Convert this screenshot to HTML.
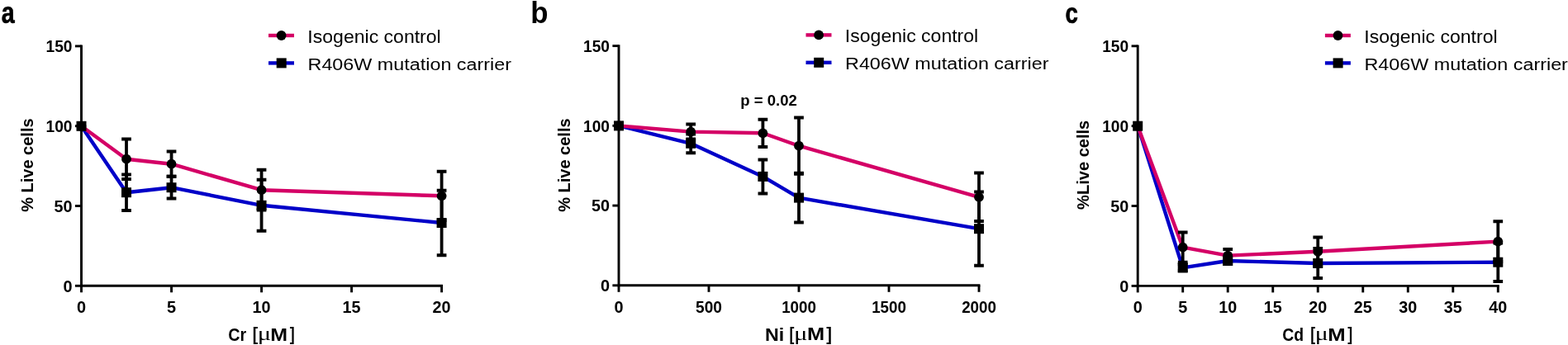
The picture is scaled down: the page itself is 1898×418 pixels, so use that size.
<!DOCTYPE html>
<html><head><meta charset="utf-8"><title>Live cells figure</title>
<style>
html,body{margin:0;padding:0;background:#fff;}
body{width:1898px;height:418px;overflow:hidden;}
svg{display:block;}
.tk{font-family:"Liberation Sans", Arial, sans-serif;font-weight:bold;font-size:20.3px;}
.B{font-family:"Liberation Sans", Arial, sans-serif;font-weight:bold;}
.N{font-family:"Liberation Sans", Arial, sans-serif;font-weight:normal;}
.S{font-family:"Liberation Serif", "Times New Roman", serif;font-weight:normal;}
</style></head><body>
<svg width="1898" height="418" viewBox="0 0 1898 418">
<rect width="1898" height="418" fill="#fff"/>
<path d="M98.50 54.50V346.30M97.05 346.30H536.05" stroke="#000" stroke-width="2.9" fill="none"/>
<path d="M90.90 346.30H98.5" stroke="#000" stroke-width="2.9"/>
<text transform="translate(87.50,353.70) scale(0.98,1)" text-anchor="end" class="tk">0</text>
<path d="M90.90 249.50H98.5" stroke="#000" stroke-width="2.9"/>
<text transform="translate(87.50,256.90) scale(0.975,1)" text-anchor="end" class="tk">50</text>
<path d="M90.90 152.70H98.5" stroke="#000" stroke-width="2.9"/>
<text transform="translate(87.50,160.10) scale(0.945,1)" text-anchor="end" class="tk">100</text>
<path d="M90.90 55.90H98.5" stroke="#000" stroke-width="2.9"/>
<text transform="translate(87.50,63.30) scale(0.945,1)" text-anchor="end" class="tk">150</text>
<path d="M98.50 346.30V354.30" stroke="#000" stroke-width="2.9"/>
<text transform="translate(98.50,379.4) scale(0.98,1)" text-anchor="middle" class="tk">0</text>
<path d="M207.53 346.30V354.30" stroke="#000" stroke-width="2.9"/>
<text transform="translate(207.53,379.4) scale(0.98,1)" text-anchor="middle" class="tk">5</text>
<path d="M316.55 346.30V354.30" stroke="#000" stroke-width="2.9"/>
<text transform="translate(316.55,379.4) scale(0.975,1)" text-anchor="middle" class="tk">10</text>
<path d="M425.57 346.30V354.30" stroke="#000" stroke-width="2.9"/>
<text transform="translate(425.57,379.4) scale(0.975,1)" text-anchor="middle" class="tk">15</text>
<path d="M534.60 346.30V354.30" stroke="#000" stroke-width="2.9"/>
<text transform="translate(534.60,379.4) scale(0.975,1)" text-anchor="middle" class="tk">20</text>
<polyline points="98.50,152.80 153.01,233.20 207.53,227.20 316.55,248.80 534.60,270.00" fill="none" stroke="#0000C8" stroke-width="4.4" stroke-linejoin="round"/>
<polyline points="98.50,152.80 153.01,192.70 207.53,198.70 316.55,230.20 534.60,237.30" fill="none" stroke="#D40066" stroke-width="4.4" stroke-linejoin="round"/>
<path d="M153.01 168.50V216.90" stroke="#000" stroke-width="3.8" fill="none"/>
<path d="M147.16 168.50h11.7M147.16 216.90h11.7" stroke="#000" stroke-width="4.0" fill="none"/>
<path d="M207.53 183.60V213.80" stroke="#000" stroke-width="3.8" fill="none"/>
<path d="M201.68 183.60h11.7M201.68 213.80h11.7" stroke="#000" stroke-width="4.0" fill="none"/>
<path d="M316.55 205.80V254.60" stroke="#000" stroke-width="3.8" fill="none"/>
<path d="M310.70 205.80h11.7M310.70 254.60h11.7" stroke="#000" stroke-width="4.0" fill="none"/>
<path d="M534.60 207.70V266.90" stroke="#000" stroke-width="3.8" fill="none"/>
<path d="M528.75 207.70h11.7M528.75 266.90h11.7" stroke="#000" stroke-width="4.0" fill="none"/>
<path d="M153.01 211.40V255.00" stroke="#000" stroke-width="3.8" fill="none"/>
<path d="M147.16 211.40h11.7M147.16 255.00h11.7" stroke="#000" stroke-width="4.0" fill="none"/>
<path d="M207.53 213.80V240.60" stroke="#000" stroke-width="3.8" fill="none"/>
<path d="M201.68 213.80h11.7M201.68 240.60h11.7" stroke="#000" stroke-width="4.0" fill="none"/>
<path d="M316.55 217.80V279.80" stroke="#000" stroke-width="3.8" fill="none"/>
<path d="M310.70 217.80h11.7M310.70 279.80h11.7" stroke="#000" stroke-width="4.0" fill="none"/>
<path d="M534.60 230.80V309.20" stroke="#000" stroke-width="3.8" fill="none"/>
<path d="M528.75 230.80h11.7M528.75 309.20h11.7" stroke="#000" stroke-width="4.0" fill="none"/>
<circle cx="98.50" cy="152.80" r="5.9"/>
<circle cx="153.01" cy="192.70" r="5.9"/>
<circle cx="207.53" cy="198.70" r="5.9"/>
<circle cx="316.55" cy="230.20" r="5.9"/>
<circle cx="534.60" cy="237.30" r="5.9"/>
<rect x="92.50" y="146.80" width="12.0" height="12.0"/>
<rect x="147.01" y="227.20" width="12.0" height="12.0"/>
<rect x="201.53" y="221.20" width="12.0" height="12.0"/>
<rect x="310.55" y="242.80" width="12.0" height="12.0"/>
<rect x="528.60" y="264.00" width="12.0" height="12.0"/>
<path d="M325.00 43.00H356.00" stroke="#D40066" stroke-width="4.4"/>
<circle cx="340.60" cy="43.00" r="5.9"/>
<path d="M325.00 76.40H356.00" stroke="#0000C8" stroke-width="4.4"/>
<rect x="334.70" y="70.40" width="12.0" height="12.0"/>
<path d="M749.00 54.20V345.80M747.55 345.80H1186.45" stroke="#000" stroke-width="2.9" fill="none"/>
<path d="M741.40 345.80H749.0" stroke="#000" stroke-width="2.9"/>
<text transform="translate(738.00,353.20) scale(0.98,1)" text-anchor="end" class="tk">0</text>
<path d="M741.40 249.07H749.0" stroke="#000" stroke-width="2.9"/>
<text transform="translate(738.00,256.47) scale(0.975,1)" text-anchor="end" class="tk">50</text>
<path d="M741.40 152.33H749.0" stroke="#000" stroke-width="2.9"/>
<text transform="translate(738.00,159.73) scale(0.945,1)" text-anchor="end" class="tk">100</text>
<path d="M741.40 55.60H749.0" stroke="#000" stroke-width="2.9"/>
<text transform="translate(738.00,63.00) scale(0.945,1)" text-anchor="end" class="tk">150</text>
<path d="M749.00 345.80V353.80" stroke="#000" stroke-width="2.9"/>
<text transform="translate(749.00,378.6) scale(0.98,1)" text-anchor="middle" class="tk">0</text>
<path d="M858.00 345.80V353.80" stroke="#000" stroke-width="2.9"/>
<text transform="translate(858.00,378.6) scale(0.945,1)" text-anchor="middle" class="tk">500</text>
<path d="M967.00 345.80V353.80" stroke="#000" stroke-width="2.9"/>
<text transform="translate(967.00,378.6) scale(0.925,1)" text-anchor="middle" class="tk">1000</text>
<path d="M1076.00 345.80V353.80" stroke="#000" stroke-width="2.9"/>
<text transform="translate(1076.00,378.6) scale(0.925,1)" text-anchor="middle" class="tk">1500</text>
<path d="M1185.00 345.80V353.80" stroke="#000" stroke-width="2.9"/>
<text transform="translate(1185.00,378.6) scale(0.925,1)" text-anchor="middle" class="tk">2000</text>
<polyline points="749.00,152.40 836.20,173.80 923.40,213.90 967.00,239.60 1185.00,277.20" fill="none" stroke="#0000C8" stroke-width="4.4" stroke-linejoin="round"/>
<polyline points="749.00,152.40 836.20,159.60 923.40,161.30 967.00,176.70 1185.00,238.80" fill="none" stroke="#D40066" stroke-width="4.4" stroke-linejoin="round"/>
<path d="M836.20 150.60V168.60" stroke="#000" stroke-width="3.8" fill="none"/>
<path d="M830.35 150.60h11.7M830.35 168.60h11.7" stroke="#000" stroke-width="4.0" fill="none"/>
<path d="M923.40 144.70V177.90" stroke="#000" stroke-width="3.8" fill="none"/>
<path d="M917.55 144.70h11.7M917.55 177.90h11.7" stroke="#000" stroke-width="4.0" fill="none"/>
<path d="M967.00 142.60V210.80" stroke="#000" stroke-width="3.8" fill="none"/>
<path d="M961.15 142.60h11.7M961.15 210.80h11.7" stroke="#000" stroke-width="4.0" fill="none"/>
<path d="M1185.00 209.50V268.10" stroke="#000" stroke-width="3.8" fill="none"/>
<path d="M1179.15 209.50h11.7M1179.15 268.10h11.7" stroke="#000" stroke-width="4.0" fill="none"/>
<path d="M836.20 162.40V185.20" stroke="#000" stroke-width="3.8" fill="none"/>
<path d="M830.35 162.40h11.7M830.35 185.20h11.7" stroke="#000" stroke-width="4.0" fill="none"/>
<path d="M923.40 193.40V234.40" stroke="#000" stroke-width="3.8" fill="none"/>
<path d="M917.55 193.40h11.7M917.55 234.40h11.7" stroke="#000" stroke-width="4.0" fill="none"/>
<path d="M967.00 209.80V269.40" stroke="#000" stroke-width="3.8" fill="none"/>
<path d="M961.15 209.80h11.7M961.15 269.40h11.7" stroke="#000" stroke-width="4.0" fill="none"/>
<path d="M1185.00 232.60V321.80" stroke="#000" stroke-width="3.8" fill="none"/>
<path d="M1179.15 232.60h11.7M1179.15 321.80h11.7" stroke="#000" stroke-width="4.0" fill="none"/>
<circle cx="749.00" cy="152.40" r="5.9"/>
<circle cx="836.20" cy="159.60" r="5.9"/>
<circle cx="923.40" cy="161.30" r="5.9"/>
<circle cx="967.00" cy="176.70" r="5.9"/>
<circle cx="1185.00" cy="238.80" r="5.9"/>
<rect x="743.00" y="146.40" width="12.0" height="12.0"/>
<rect x="830.20" y="167.80" width="12.0" height="12.0"/>
<rect x="917.40" y="207.90" width="12.0" height="12.0"/>
<rect x="961.00" y="233.60" width="12.0" height="12.0"/>
<rect x="1179.00" y="271.20" width="12.0" height="12.0"/>
<path d="M975.50 42.40H1006.50" stroke="#D40066" stroke-width="4.4"/>
<circle cx="991.10" cy="42.40" r="5.9"/>
<path d="M975.50 75.80H1006.50" stroke="#0000C8" stroke-width="4.4"/>
<rect x="985.20" y="69.80" width="12.0" height="12.0"/>
<path d="M1377.20 54.40V346.40M1375.75 346.40H1814.75" stroke="#000" stroke-width="2.9" fill="none"/>
<path d="M1369.60 346.40H1377.2" stroke="#000" stroke-width="2.9"/>
<text transform="translate(1366.20,353.80) scale(0.98,1)" text-anchor="end" class="tk">0</text>
<path d="M1369.60 249.53H1377.2" stroke="#000" stroke-width="2.9"/>
<text transform="translate(1366.20,256.93) scale(0.975,1)" text-anchor="end" class="tk">50</text>
<path d="M1369.60 152.67H1377.2" stroke="#000" stroke-width="2.9"/>
<text transform="translate(1366.20,160.07) scale(0.945,1)" text-anchor="end" class="tk">100</text>
<path d="M1369.60 55.80H1377.2" stroke="#000" stroke-width="2.9"/>
<text transform="translate(1366.20,63.20) scale(0.945,1)" text-anchor="end" class="tk">150</text>
<path d="M1377.20 346.40V354.40" stroke="#000" stroke-width="2.9"/>
<text transform="translate(1377.20,379.1) scale(0.98,1)" text-anchor="middle" class="tk">0</text>
<path d="M1431.71 346.40V354.40" stroke="#000" stroke-width="2.9"/>
<text transform="translate(1431.71,379.1) scale(0.98,1)" text-anchor="middle" class="tk">5</text>
<path d="M1486.22 346.40V354.40" stroke="#000" stroke-width="2.9"/>
<text transform="translate(1486.22,379.1) scale(0.975,1)" text-anchor="middle" class="tk">10</text>
<path d="M1540.74 346.40V354.40" stroke="#000" stroke-width="2.9"/>
<text transform="translate(1540.74,379.1) scale(0.975,1)" text-anchor="middle" class="tk">15</text>
<path d="M1595.25 346.40V354.40" stroke="#000" stroke-width="2.9"/>
<text transform="translate(1595.25,379.1) scale(0.975,1)" text-anchor="middle" class="tk">20</text>
<path d="M1649.76 346.40V354.40" stroke="#000" stroke-width="2.9"/>
<text transform="translate(1649.76,379.1) scale(0.975,1)" text-anchor="middle" class="tk">25</text>
<path d="M1704.28 346.40V354.40" stroke="#000" stroke-width="2.9"/>
<text transform="translate(1704.28,379.1) scale(0.975,1)" text-anchor="middle" class="tk">30</text>
<path d="M1758.79 346.40V354.40" stroke="#000" stroke-width="2.9"/>
<text transform="translate(1758.79,379.1) scale(0.975,1)" text-anchor="middle" class="tk">35</text>
<path d="M1813.30 346.40V354.40" stroke="#000" stroke-width="2.9"/>
<text transform="translate(1813.30,379.1) scale(0.975,1)" text-anchor="middle" class="tk">40</text>
<polyline points="1377.20,152.70 1431.71,324.30 1486.22,316.00 1595.25,319.00 1813.30,317.70" fill="none" stroke="#0000C8" stroke-width="4.4" stroke-linejoin="round"/>
<polyline points="1377.20,152.70 1431.71,299.70 1486.22,309.60 1595.25,304.80 1813.30,292.60" fill="none" stroke="#D40066" stroke-width="4.4" stroke-linejoin="round"/>
<path d="M1431.71 281.60V317.80" stroke="#000" stroke-width="3.8" fill="none"/>
<path d="M1425.86 281.60h11.7M1425.86 317.80h11.7" stroke="#000" stroke-width="4.0" fill="none"/>
<path d="M1486.22 302.10V317.10" stroke="#000" stroke-width="3.8" fill="none"/>
<path d="M1480.38 302.10h11.7M1480.38 317.10h11.7" stroke="#000" stroke-width="4.0" fill="none"/>
<path d="M1595.25 287.50V322.10" stroke="#000" stroke-width="3.8" fill="none"/>
<path d="M1589.40 287.50h11.7M1589.40 322.10h11.7" stroke="#000" stroke-width="4.0" fill="none"/>
<path d="M1813.30 268.30V316.90" stroke="#000" stroke-width="3.8" fill="none"/>
<path d="M1807.45 268.30h11.7M1807.45 316.90h11.7" stroke="#000" stroke-width="4.0" fill="none"/>
<path d="M1431.71 320.30V328.30" stroke="#000" stroke-width="3.8" fill="none"/>
<path d="M1425.86 320.30h11.7M1425.86 328.30h11.7" stroke="#000" stroke-width="4.0" fill="none"/>
<path d="M1486.22 312.00V320.00" stroke="#000" stroke-width="3.8" fill="none"/>
<path d="M1480.38 312.00h11.7M1480.38 320.00h11.7" stroke="#000" stroke-width="4.0" fill="none"/>
<path d="M1595.25 301.00V337.00" stroke="#000" stroke-width="3.8" fill="none"/>
<path d="M1589.40 301.00h11.7M1589.40 337.00h11.7" stroke="#000" stroke-width="4.0" fill="none"/>
<path d="M1813.30 294.40V341.00" stroke="#000" stroke-width="3.8" fill="none"/>
<path d="M1807.45 294.40h11.7M1807.45 341.00h11.7" stroke="#000" stroke-width="4.0" fill="none"/>
<circle cx="1377.20" cy="152.70" r="5.9"/>
<circle cx="1431.71" cy="299.70" r="5.9"/>
<circle cx="1486.22" cy="309.60" r="5.9"/>
<circle cx="1595.25" cy="304.80" r="5.9"/>
<circle cx="1813.30" cy="292.60" r="5.9"/>
<rect x="1371.20" y="146.70" width="12.0" height="12.0"/>
<rect x="1425.71" y="318.30" width="12.0" height="12.0"/>
<rect x="1480.22" y="310.00" width="12.0" height="12.0"/>
<rect x="1589.25" y="313.00" width="12.0" height="12.0"/>
<rect x="1807.30" y="311.70" width="12.0" height="12.0"/>
<path d="M1603.90 43.00H1634.90" stroke="#D40066" stroke-width="4.4"/>
<circle cx="1619.50" cy="43.00" r="5.9"/>
<path d="M1603.90 76.40H1634.90" stroke="#0000C8" stroke-width="4.4"/>
<rect x="1613.60" y="70.40" width="12.0" height="12.0"/>
<text transform="translate(372.33,51.60) scale(1.0853,1)" class="N" font-size="21.24">Isogenic control</text>
<text transform="translate(372.53,84.50) scale(1.1364,1)" class="N" font-size="20.55">R406W mutation carrier</text>
<text transform="translate(276.21,412.60) scale(0.8790,1)" class="B" font-size="22.43">Cr</text>
<text transform="translate(1022.83,51.00) scale(1.0853,1)" class="N" font-size="21.24">Isogenic control</text>
<text transform="translate(1023.03,83.90) scale(1.1364,1)" class="N" font-size="20.55">R406W mutation carrier</text>
<text transform="translate(925.89,412.60) scale(1.0730,1)" class="B" font-size="21.66">Ni</text>
<text transform="translate(1651.23,51.60) scale(1.0853,1)" class="N" font-size="21.24">Isogenic control</text>
<text transform="translate(1651.43,84.50) scale(1.1364,1)" class="N" font-size="20.55">R406W mutation carrier</text>
<text transform="translate(1552.22,412.60) scale(0.8972,1)" class="B" font-size="21.66">Cd</text>
<text transform="translate(305.74,412.20) scale(0.8778,1)" class="B" font-size="21.93">[</text>
<text transform="translate(311.75,412.47) scale(1.3314,1)" class="S" font-size="22.99">μ</text>
<text transform="translate(327.27,412.80) scale(1.1201,1)" class="B" font-size="22.32">M</text>
<text transform="translate(350.82,412.20) scale(0.8089,1)" class="B" font-size="21.93">]</text>
<text transform="translate(955.52,411.50) scale(0.8089,1)" class="B" font-size="21.93">[</text>
<text transform="translate(961.03,411.77) scale(1.3419,1)" class="S" font-size="22.99">μ</text>
<text transform="translate(976.95,412.10) scale(1.1393,1)" class="B" font-size="22.32">M</text>
<text transform="translate(1000.20,411.50) scale(0.9122,1)" class="B" font-size="21.93">]</text>
<text transform="translate(1586.22,412.20) scale(0.8089,1)" class="B" font-size="21.93">[</text>
<text transform="translate(1591.81,412.47) scale(1.3000,1)" class="S" font-size="22.99">μ</text>
<text transform="translate(1607.33,412.80) scale(1.1521,1)" class="B" font-size="22.32">M</text>
<text transform="translate(1631.22,412.20) scale(0.8089,1)" class="B" font-size="21.93">]</text>
<text transform="translate(1.84,27.54) scale(0.7887,1)" class="B" font-size="36.36" stroke="#000" stroke-width="0.6">a</text>
<text transform="translate(642.13,27.54) scale(0.9666,1)" class="B" font-size="36.05">b</text>
<text transform="translate(1289.54,27.50) scale(0.7793,1)" class="B" font-size="35.45" stroke="#000" stroke-width="0.7">c</text>
<text transform="translate(896.29,127.80) scale(1.0067,1)" class="B" font-size="18.43">p = 0.02</text>
<text transform="translate(39.60,256.80) rotate(-90) scale(0.9684,1)" class="B" font-size="20.67">% Live cells</text>
<text transform="translate(690.10,256.80) rotate(-90) scale(0.9684,1)" class="B" font-size="20.67">% Live cells</text>
<text transform="translate(1318.40,253.90) rotate(-90) scale(0.9712,1)" class="B" font-size="20.67">%Live cells</text>
</svg>
</body></html>
